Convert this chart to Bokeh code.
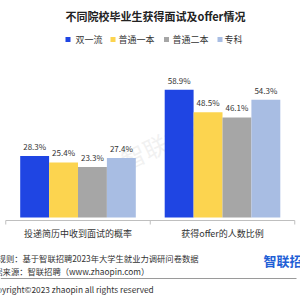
from bokeh.plotting import figure
from bokeh.models import Range1d, ColumnDataSource
from bokeh.core.properties import value
from bokeh.embed import file_html
from bokeh.resources import INLINE

# ---- data ----
groups = ["投递简历中收到面试的概率", "获得offer的人数比例"]
series = ["双一流", "普通一本", "普通二本", "专科"]
v_shuangyiliu = [28.3, 58.9]
v_yiben = [25.4, 48.5]
v_erben = [23.3, 46.1]
v_zhuanke = [27.4, 54.3]
values = [v_shuangyiliu, v_yiben, v_erben, v_zhuanke]
colors = ["#1f45e3", "#fcd44f", "#a6a6a6", "#a8bde3"]

title = "不同院校毕业生获得面试及offer情况"
note1 = "统计规则：基于智联招聘2023年大学生就业力调研问卷数据"
note2 = "数据来源：智联招聘（www.zhaopin.com）"
copyright_txt = "Copyright©2023 zhaopin all rights reserved"
logo = "智联招聘"

FONT = value("Noto Sans CJK SC")

# pixel -> data helpers (layout only)
def X(px):
    return (px - 5.25) / 144.5

def Y(py):
    return (217 - py) / 2.17

p = figure(width=300, height=300, output_backend="svg", toolbar_location=None,
           x_range=Range1d(X(0), X(300)), y_range=Range1d(Y(300), Y(0)),
           x_axis_type=None, y_axis_type=None, min_border=0,
           min_border_left=0, min_border_right=0, min_border_top=0, min_border_bottom=0)
p.grid.visible = False
p.outline_line_color = None
p.background_fill_color = "white"
p.border_fill_color = "white"

# watermark
p.text(x=[X(165)], y=[Y(140)], text=["智联招聘"], angle=0.45,
       text_font=FONT, text_font_size="24px", text_color="#d8d8d8", text_alpha=0.35,
       text_align="center", text_baseline="middle")

# bars
offsets = [-0.3, -0.1, 0.1, 0.3]
width = 0.2
for s, vals, col, off in zip(series, values, colors, offsets):
    xs = [i + 0.5 + off for i in range(len(groups))]
    src = ColumnDataSource(dict(x=xs, top=vals, lab=[f"{v:.1f}%" for v in vals]))
    p.vbar(x="x", top="top", bottom=0, width=width, source=src,
           fill_color=col, line_color=None)
    p.text(x="x", y="top", text="lab", source=src, text_font=FONT,
           text_font_size="8px", text_color="#333333", text_align="center",
           text_baseline="bottom", y_offset=-4)

# axis line and ticks
axis_y = Y(220)
p.segment(x0=[0], y0=[axis_y], x1=[len(groups)], y1=[axis_y], line_color="#bfbfbf", line_width=1)
p.segment(x0=list(range(len(groups) + 1)), y0=[axis_y] * 3,
          x1=list(range(len(groups) + 1)), y1=[Y(224)] * 3, line_color="#bfbfbf", line_width=1)

# category labels
p.text(x=[i + 0.5 for i in range(len(groups))], y=[Y(233)] * len(groups), text=groups,
       text_font=FONT, text_font_size="9px", text_color="#333333",
       text_align="center", text_baseline="middle")

# title
p.text(x=[X(155)], y=[Y(15)], text=[title], text_font=FONT, text_font_size="11px",
       text_font_style="bold", text_color="#222222", text_align="center", text_baseline="middle")

# legend
sq_px = [67.5, 112.5, 166, 219.5]
tx_px = [75, 118, 172, 224]
p.scatter(x=[X(v) for v in sq_px], y=[Y(39)] * 4, marker="square", size=5,
          fill_color=colors, line_color=None)
p.text(x=[X(v) for v in tx_px], y=[Y(39)] * 4, text=series, text_font=FONT,
       text_font_size="9px", text_color="#333333", text_align="left", text_baseline="middle")

# footer notes
p.text(x=[X(-19.5), X(-14.5)], y=[Y(257), Y(270)], text=[note1, note2], text_font=FONT,
       text_font_size="8.3px", text_color="#333333", text_align="left", text_baseline="middle")
p.segment(x0=[X(0)], y0=[Y(278)], x1=[X(296)], y1=[Y(278)], line_color="#9a9a9a", line_width=1)
p.text(x=[X(-14)], y=[Y(288)], text=[copyright_txt], text_font=FONT,
       text_font_size="8.3px", text_color="#333333", text_align="left", text_baseline="middle")
p.text(x=[X(263)], y=[Y(260)], text=[logo], text_font=FONT, text_font_size="13px",
       text_font_style="bold", text_color="#1f5fd6", text_align="left", text_baseline="middle")

open("out.html", "w").write(file_html(p, INLINE))
